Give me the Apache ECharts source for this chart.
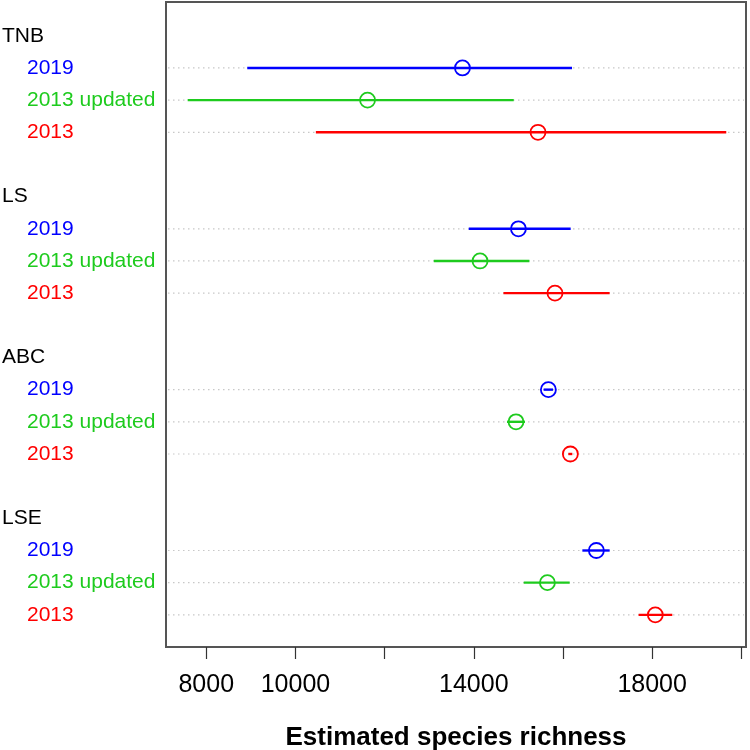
<!DOCTYPE html>
<html>
<head>
<meta charset="utf-8">
<script src="https://cdn.jsdelivr.net/npm/echarts@6/dist/echarts.min.js"></script>
<style>html,body{margin:0;padding:0;background:#fff;}#c{width:750px;height:750px;}</style>
</head>
<body>
<div id="c"></div>
<script>
const groups = ['TNB', 'LS', 'ABC', 'LSE'];
const years = ['2019', '2013 updated', '2013'];
const est2019 = [13746, 15001, 15673, 16749];
const lo2019 = [8919, 13887, 15567, 16435];
const hi2019 = [16203, 16173, 15776, 17047];
const estUpd = [11617, 14140, 14947, 15651];
const loUpd = [7583, 13103, 14745, 15120];
const hiUpd = [14896, 15247, 15149, 16151];
const est2013 = [15440, 15821, 16166, 18071];
const lo2013 = [10458, 14665, 16120, 17697];
const hi2013 = [19662, 17047, 16210, 18452];
const tickValues = [8000, 10000, 12000, 14000, 16000, 18000, 20000];
const tickLabels = [8000, 10000, 14000, 18000];

const colors = ['#0000FF', '#1ECB1E', '#FF0000'];
const yearEst = [est2019, estUpd, est2013];
const yearLo = [lo2019, loUpd, lo2013];
const yearHi = [hi2019, hiUpd, hi2013];
const FONT = 'Liberation Sans, Arial, sans-serif';

const rowLabel = {};
const dataRows = [];
groups.forEach((g, gi) => {
  rowLabel[gi * 5] = { text: g, style: 'h' };
  years.forEach((y, yi) => {
    const r = gi * 5 + 1 + yi;
    rowLabel[r] = { text: y, style: 'y' + yi };
    dataRows.push(r);
  });
});
const labelRows = Object.keys(rowLabel).map(Number);

const series = [];
series.push({
  type: 'custom',
  silent: true,
  z: 1,
  data: dataRows.map(r => [8000, r]),
  renderItem: function (params, api) {
    const p = api.coord([api.value(0), api.value(1)]);
    const cs = params.coordSys;
    return {
      type: 'line',
      shape: { x1: cs.x + 2, y1: p[1], x2: cs.x + cs.width - 2, y2: p[1] },
      style: { stroke: '#c8c8c8', lineWidth: 1.2, lineDash: [1.5, 3.5] }
    };
  }
});
years.forEach((y, yi) => {
  const ci = groups.map((g, gi) => [yearLo[yi][gi], yearHi[yi][gi], gi * 5 + 1 + yi]);
  series.push({
    type: 'custom',
    name: y + ' CI',
    silent: true,
    z: 2,
    data: ci,
    renderItem: function (params, api) {
      const a = api.coord([api.value(0), api.value(2)]);
      const b = api.coord([api.value(1), api.value(2)]);
      return {
        type: 'line',
        shape: { x1: a[0], y1: a[1], x2: b[0], y2: b[1] },
        style: { stroke: colors[yi], lineWidth: 2.4 }
      };
    }
  });
  series.push({
    type: 'scatter',
    name: y,
    silent: true,
    z: 3,
    symbol: 'circle',
    symbolSize: 15,
    itemStyle: { color: 'rgba(0,0,0,0)', borderColor: colors[yi], borderWidth: 1.8, opacity: 1 },
    data: groups.map((g, gi) => [yearEst[yi][gi], gi * 5 + 1 + yi])
  });
});

const chart = echarts.init(document.getElementById('c'), null, { renderer: 'canvas' });
chart.setOption({
  animation: false,
  backgroundColor: '#fff',
  textStyle: { fontFamily: FONT },
  grid: {
    left: 166, right: 4, top: 2, bottom: 103,
    show: true, borderColor: '#555', borderWidth: 2,
    containLabel: false, outerBoundsMode: 'none'
  },
  xAxis: {
    type: 'value',
    position: 'bottom',
    min: 7097, max: 20105,
    axisLine: { show: false, onZero: false },
    splitLine: { show: false },
    axisTick: { show: true, inside: false, customValues: tickValues, length: 12, lineStyle: { color: '#333', width: 1.2 } },
    axisLabel: {
      customValues: tickLabels, fontSize: 25, color: '#000', margin: 26,
      fontFamily: FONT,
      formatter: function (v) { return String(v); }
    },
    name: 'Estimated species richness',
    nameLocation: 'middle',
    nameGap: 78,
    nameTextStyle: { fontSize: 26, fontWeight: 'bold', color: '#000', fontFamily: FONT }
  },
  yAxis: {
    type: 'value',
    inverse: true,
    min: -1.05, max: 19,
    axisLine: { show: false },
    splitLine: { show: false },
    axisTick: { show: false },
    axisLabel: {
      customValues: labelRows,
      align: 'left',
      margin: 164,
      formatter: function (v) {
        const l = rowLabel[Math.round(v)];
        return l ? '{' + l.style + '|' + l.text + '}' : '';
      },
      rich: {
        h: { color: '#000', fontSize: 21, fontFamily: FONT },
        y0: { color: colors[0], fontSize: 21, padding: [0, 0, 0, 25], fontFamily: FONT },
        y1: { color: colors[1], fontSize: 21, padding: [0, 0, 0, 25], fontFamily: FONT },
        y2: { color: colors[2], fontSize: 21, padding: [0, 0, 0, 25], fontFamily: FONT }
      }
    }
  },
  series: series
});
</script>
</body>
</html>
